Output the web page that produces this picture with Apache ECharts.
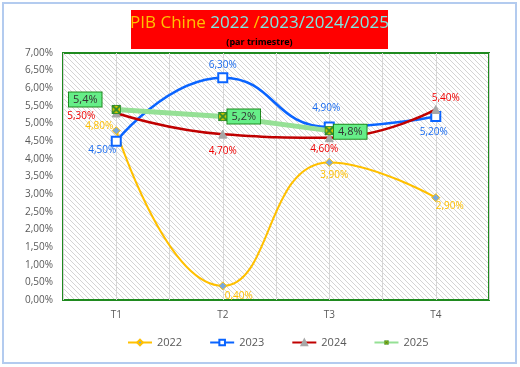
<!DOCTYPE html>
<html><head><meta charset="utf-8">
<script src="https://cdn.jsdelivr.net/npm/echarts@6/dist/echarts.min.js"></script>
<style>html,body{margin:0;padding:0;background:#fff}#c{width:520px;height:367px}</style>
</head><body><div id="c"></div>
<script>
const categories = ['T1','T2','T3','T4'];
const s2022 = [4.8, 0.4, 3.9, 2.9];
const s2023 = [4.5, 6.3, 4.9, 5.2];
const s2024 = [5.3, 4.7, 4.6, 5.4];
const s2025 = [5.4, 5.2, 4.8];
const yTicks = {min: 0, max: 7, interval: 0.5};

// label offsets (style)
const off2022 = [[-17,-4],[16,10],[5,13],[14,8]];
const off2023 = [[-14,9],[0,-13],[-3,-19],[-2,16]];
const off2024 = [[-35,3],[0,17],[-5,11],[10,-11]];
const off2025 = [[-31,-10],[21,0],[21,1]];

const FONT = 'Open Sans';
const pct2 = v => v.toFixed(2).replace('.', ',') + '%';
const pct1 = v => v.toFixed(1).replace('.', ',') + '%';

// hatch pattern
const pc = document.createElement('canvas');
pc.width = 5; pc.height = 5;
const g = pc.getContext('2d');
g.fillStyle = '#ffffff'; g.fillRect(0,0,5,5);
g.strokeStyle = '#d4d4d4'; g.lineWidth = 1;
g.beginPath();
g.moveTo(0,0); g.lineTo(5,5);
g.moveTo(-3,2); g.lineTo(3,8);
g.moveTo(2,-3); g.lineTo(8,3);
g.stroke();

// 2025 marker
const mc = document.createElement('canvas');
mc.width = 12; mc.height = 12;
const m = mc.getContext('2d');
m.fillStyle = '#d8c800'; m.fillRect(1,1,10,10);
m.strokeStyle = '#2e8b2e'; m.lineWidth = 2;
m.beginPath(); m.moveTo(2,2); m.lineTo(10,10); m.moveTo(10,2); m.lineTo(2,10); m.stroke();
m.lineWidth = 1; m.strokeRect(1.5,1.5,9,9);
const mark2025 = 'image://' + mc.toDataURL();

function build(vals, offs) {
  return vals.map((v, i) => ({value: v, label: {offset: offs[i]}}));
}

const chart = echarts.init(document.getElementById('c'), null, {renderer: 'canvas'});
chart.setOption({
  animation: false,
  textStyle: {fontFamily: FONT},
  graphic: [
    {type: 'rect', shape: {x: 3, y: 3, width: 513, height: 360}, style: {fill: 'none', stroke: '#b3cbef', lineWidth: 2}},
    {type: 'rect', shape: {x: 131, y: 10, width: 257, height: 39}, style: {fill: '#ff0000'}},
    {type: 'text', x: 259.5, y: 23, style: {
      text: '{a|PIB Chine }{b|2022 }{a|/}{b|2023/2024/2025}',
      align: 'center', verticalAlign: 'middle',
      rich: {
        a: {fontSize: 17, fontFamily: FONT, fill: '#ffc000', color: '#ffc000'},
        b: {fontSize: 17, fontFamily: FONT, fill: '#80e8e0', color: '#80e8e0'}
      }
    }},
    {type: 'text', x: 259.5, y: 42, style: {text: '(par trimestre)', align: 'center', verticalAlign: 'middle', fontSize: 9, fontWeight: 'bold', fontFamily: FONT, fill: '#000'}}
  ],
  grid: {left: 63, top: 53, right: 31, bottom: 67, show: true,
    backgroundColor: {image: pc, repeat: 'repeat'},
    borderColor: '#1f8a1f', borderWidth: 2},
  legend: {
    left: 122, top: 332, itemWidth: 24, itemHeight: 7, itemGap: 27,
    textStyle: {fontSize: 11, color: '#595959', fontFamily: FONT},
    data: ['2022','2023','2024','2025']
  },
  xAxis: [
    {type: 'category', data: categories, boundaryGap: true,
      axisLine: {show: false}, axisTick: {show: false},
      axisLabel: {color: '#595959', fontSize: 10, margin: 10, fontFamily: FONT},
      splitLine: {show: false}},
    {type: 'category', data: ['','','','','','','',''], boundaryGap: true, position: 'bottom',
      axisLine: {show: false}, axisTick: {show: false}, axisLabel: {show: false},
      splitLine: {show: true, interval: 0, lineStyle: {color: '#d6d6d6', width: 1}}}
  ],
  yAxis: {type: 'value', min: yTicks.min, max: yTicks.max, interval: yTicks.interval,
    axisLine: {show: false}, axisTick: {show: false}, splitLine: {show: false},
    axisLabel: {color: '#595959', fontSize: 10, margin: 10, fontFamily: FONT, formatter: v => pct2(v)}},
  series: [
    {name: '2022', type: 'line', smooth: 0.5, data: build(s2022, off2022),
      lineStyle: {color: '#ffc000', width: 2}, itemStyle: {color: '#7aa9dc', borderColor: '#ffc000', borderWidth: 1},
      symbol: 'diamond', symbolSize: 8, z: 2,
      label: {show: true, position: 'inside', color: '#ffc000', fontSize: 10, fontFamily: FONT, formatter: p => pct2(p.value)}},
    {name: '2023', type: 'line', smooth: 0.5, data: build(s2023, off2023),
      lineStyle: {color: '#0a64ff', width: 2.5}, itemStyle: {color: '#ffffff', borderColor: '#0a64ff', borderWidth: 2},
      symbol: 'rect', symbolSize: 9, z: 3,
      label: {show: true, position: 'inside', color: '#1a6cf0', fontSize: 10, fontFamily: FONT, formatter: p => pct2(p.value)}},
    {name: '2024', type: 'line', smooth: 0.5, data: build(s2024, off2024),
      lineStyle: {color: '#c00000', width: 2.5}, itemStyle: {color: '#a8a8a8', borderColor: '#a8a8a8', borderWidth: 1},
      symbol: 'triangle', symbolSize: 8, z: 4,
      label: {show: true, position: 'inside', color: '#f00000', fontSize: 10, fontFamily: FONT, formatter: p => pct2(p.value)}},
    {name: '2025', type: 'line', smooth: false, data: build(s2025, off2025),
      lineStyle: {color: '#95e095', width: 5}, itemStyle: {color: '#95e095'},
      symbol: mark2025, symbolSize: 11, z: 5,
      label: {show: true, position: 'inside', color: '#333333', fontSize: 11, fontFamily: FONT,
        backgroundColor: '#66ee88', borderColor: '#1f8a1f', borderWidth: 1, padding: [2, 4, 1, 4],
        formatter: p => pct1(p.value)}}
  ]
});
</script></body></html>
